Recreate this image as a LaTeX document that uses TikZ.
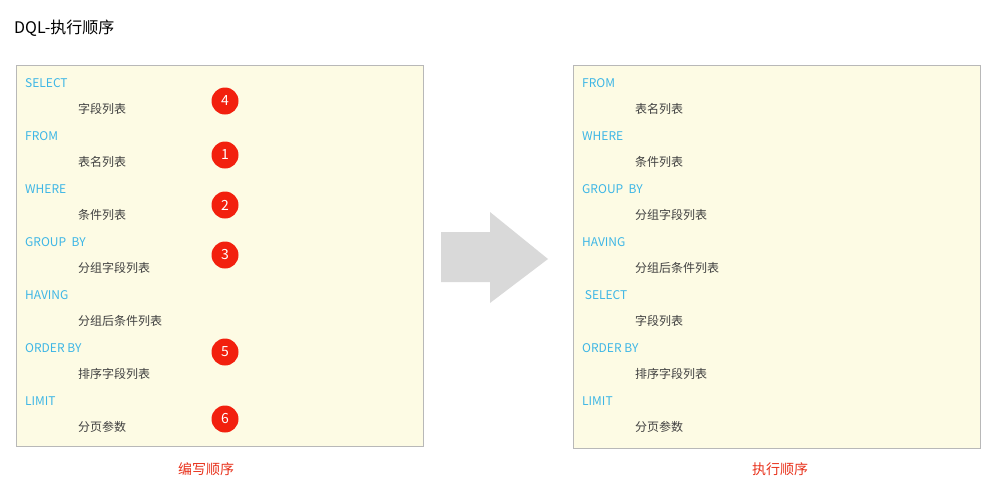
\documentclass[tikz,border=0pt]{standalone}
\usepackage{fontspec}
\setmainfont{Noto Sans CJK SC}
\begin{document}
\begin{tikzpicture}[x=1pt,y=-1pt,
 kw/.style={anchor=west,text=kwc,font=\fontsize{12}{12}\selectfont,inner sep=0},
 it/.style={anchor=west,text=itc,font=\fontsize{12}{12}\selectfont,inner sep=0},
 box/.style={draw=boxd,fill=boxf,line width=0.8pt},
 num/.style={circle,fill=numc,text=white,minimum size=27pt,inner sep=0,font=\fontsize{14}{14}\selectfont},
 captxt/.style={text=capc,font=\fontsize{14}{14}\selectfont}]
\definecolor{kwc}{HTML}{3DB6E6}\definecolor{itc}{HTML}{404040}
\definecolor{boxf}{HTML}{FDFBE4}\definecolor{boxd}{HTML}{B8B8B8}
\definecolor{numc}{HTML}{F2200E}\definecolor{capc}{HTML}{E8321C}
\definecolor{arr}{HTML}{D9D9D9}
\useasboundingbox (0,0) rectangle (998,485);
\node[anchor=west,inner sep=0,font=\fontsize{16}{16}\selectfont] (t) at (14,28) {DQL-执行顺序};
\draw[box] (16,65) rectangle (423,446);
\draw[box] (573,65) rectangle (980,448);
\foreach \k/\i/\y [count=\n] in {SELECT/字段列表/83,FROM/表名列表/136,WHERE/条件列表/189,GROUP\ \ BY/分组字段列表/242,HAVING/分组后条件列表/295,ORDER BY/排序字段列表/348,LIMIT/分页参数/401}{
 \node[kw] (lk\n) at (25,\y) {\k};
 \node[it] (li\n) at (78,\y+26) {\i};}
\foreach \k/\i/\y [count=\n] in {FROM/表名列表/83,WHERE/条件列表/136,GROUP\ \ BY/分组字段列表/189,HAVING/分组后条件列表/242,\ SELECT/字段列表/295,ORDER BY/排序字段列表/348,LIMIT/分页参数/401}{
 \node[kw] (rk\n) at (582,\y) {\k};
 \node[it] (ri\n) at (635,\y+26) {\i};}
\foreach \v/\y [count=\n] in {4/101,1/155,2/205,3/255,5/352,6/419}
 \node[num] (c\n) at (225,\y) {\v};
\fill[arr] (441,232) -- (490,232) -- (490,212) -- (548,259) -- (490,303) -- (490,282) -- (441,282) -- cycle;
\node[captxt] (lc) at (206,469) {编写顺序};
\node[captxt] (rc) at (780,469) {执行顺序};
\end{tikzpicture}
\end{document}
